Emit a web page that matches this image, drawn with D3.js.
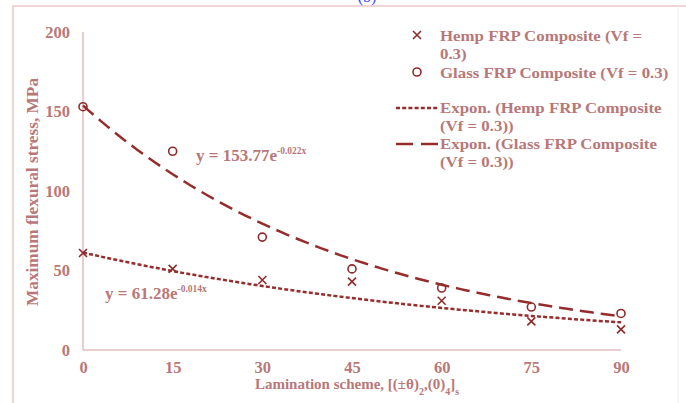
<!DOCTYPE html>
<html><head><meta charset="utf-8">
<script src="https://cdn.jsdelivr.net/npm/d3@7"></script>
<style>
html,body{margin:0;padding:0;background:#fff;}
text{font-family:"Liberation Serif","Times New Roman",serif;font-weight:bold;}
</style></head>
<body>
<svg id="c" width="686" height="403"></svg>
<script>
const xTicks = [0, 15, 30, 45, 60, 75, 90];
const yTicks = [0, 50, 100, 150, 200];
const hempX = [0, 15, 30, 45, 60, 75, 90];
const hempY = [61, 51, 44, 43, 31, 18, 13];
const glassX = [0, 15, 30, 45, 60, 75, 90];
const glassY = [153, 125, 71, 51, 39, 27, 23];
const hempFit = [61.28, -0.014];
const glassFit = [153.77, -0.022];
const legendLabels = [["Hemp FRP Composite (Vf =", "0.3)"], ["Glass FRP Composite (Vf = 0.3)"],
  ["Expon. (Hemp FRP Composite", "(Vf = 0.3))"], ["Expon. (Glass FRP Composite", "(Vf = 0.3))"]];

const svg = d3.select("#c");
const textCol = "#b87878", markCol = "#8e2c2c", lineCol = "#962c2c", axisCol = "#e3bcbc";

// frame
svg.append("path").attr("d", "M13,403 L13,6 L686,6").attr("fill", "none").attr("stroke", "#ecc7c7").attr("stroke-width", 1.5);
svg.append("line").attr("x1", 678).attr("x2", 678).attr("y1", 6).attr("y2", 403).attr("stroke", "#eeeeee").attr("stroke-width", 1);
svg.append("text").attr("x", 367).attr("y", 2).attr("text-anchor", "middle").attr("fill", "#3344ff")
  .style("font-weight", "normal").style("font-size", "16px").text("(b)");

const x = d3.scaleLinear().domain([0, 90]).range([83, 621]);
const y = d3.scaleLinear().domain([0, 200]).range([350, 32]);

// axes lines
svg.append("line").attr("x1", x(0)).attr("x2", x(0)).attr("y1", y(0)).attr("y2", y(200)).attr("stroke", axisCol).attr("stroke-width", 1.5);
svg.append("line").attr("x1", x(0)).attr("x2", x(90)).attr("y1", y(0)).attr("y2", y(0)).attr("stroke", axisCol).attr("stroke-width", 1.5);

const yAxis = d3.axisLeft(y).tickValues(yTicks).tickSize(0).tickPadding(13);
const gy = svg.append("g").attr("transform", `translate(${x(0)},0)`).call(yAxis);
gy.select(".domain").remove();
gy.selectAll("text").attr("fill", textCol).style("font-size", "16.5px").style("font-family", "Liberation Serif").style("font-weight", "bold");

const xAxis = d3.axisBottom(x).tickValues(xTicks).tickSize(0).tickPadding(11);
const gx = svg.append("g").attr("transform", `translate(0,${y(0)})`).call(xAxis);
gx.select(".domain").remove();
gx.selectAll("text").attr("fill", textCol).style("font-size", "16.5px").style("font-family", "Liberation Serif").style("font-weight", "bold");

// axis titles
svg.append("text").attr("transform", `translate(38,192) rotate(-90)`).attr("text-anchor", "middle")
  .attr("fill", textCol).style("font-size", "17.3px").text("Maximum flexural stress, MPa");
const xt = svg.append("text").attr("x", 357).attr("y", 389).attr("text-anchor", "middle").attr("fill", textCol).style("font-size", "15px");
xt.append("tspan").text("Lamination scheme, [(±θ)");
xt.append("tspan").attr("baseline-shift", "sub").style("font-size", "10px").text("2");
xt.append("tspan").text(",(0)");
xt.append("tspan").attr("baseline-shift", "sub").style("font-size", "10px").text("4");
xt.append("tspan").text("]");
xt.append("tspan").attr("baseline-shift", "sub").style("font-size", "10px").text("s");

// trendlines
const xs = d3.range(0, 90.01, 1);
const line = d3.line().x(d => x(d[0])).y(d => y(d[1]));
svg.append("path").datum(xs.map(v => [v, glassFit[0] * Math.exp(glassFit[1] * v)]))
  .attr("d", line).attr("fill", "none").attr("stroke", lineCol).attr("stroke-width", 2.5).attr("stroke-dasharray", "14,7");
svg.append("path").datum(xs.map(v => [v, hempFit[0] * Math.exp(hempFit[1] * v)]))
  .attr("d", line).attr("fill", "none").attr("stroke", lineCol).attr("stroke-width", 2.5).attr("stroke-dasharray", "4,2.2");

// markers
const cross = (g, cx, cy, s) => {
  g.append("path").attr("d", `M${cx - s},${cy - s}L${cx + s},${cy + s}M${cx - s},${cy + s}L${cx + s},${cy - s}`)
    .attr("stroke", markCol).attr("stroke-width", 1.6).attr("fill", "none");
};
hempX.forEach((v, i) => cross(svg, x(v), y(hempY[i]), 4));
svg.selectAll("circle.g").data(glassX).enter().append("circle").attr("class", "g")
  .attr("cx", d => x(d)).attr("cy", (d, i) => y(glassY[i])).attr("r", 4)
  .attr("fill", "none").attr("stroke", markCol).attr("stroke-width", 1.6);

// equations
const e1 = svg.append("text").attr("x", 196).attr("y", 161).attr("fill", textCol).style("font-size", "17px");
e1.append("tspan").text("y = 153.77e");
e1.append("tspan").attr("dy", -7).style("font-size", "9.5px").text("-0.022x");
const e2 = svg.append("text").attr("x", 105).attr("y", 299).attr("fill", textCol).style("font-size", "17px");
e2.append("tspan").text("y = 61.28e");
e2.append("tspan").attr("dy", -7).style("font-size", "9.5px").text("-0.014x");

// legend
const lg = svg.append("g");
cross(lg, 417, 35, 4);
lg.append("circle").attr("cx", 417).attr("cy", 72).attr("r", 4).attr("fill", "none").attr("stroke", markCol).attr("stroke-width", 1.6);
lg.append("line").attr("x1", 396).attr("x2", 439).attr("y1", 108).attr("y2", 108).attr("stroke", lineCol).attr("stroke-width", 2.5).attr("stroke-dasharray", "4,2.2");
lg.append("line").attr("x1", 396).attr("x2", 439).attr("y1", 144).attr("y2", 144).attr("stroke", lineCol).attr("stroke-width", 2.5).attr("stroke-dasharray", "17,8");
const lt = svg.append("g").attr("transform", "translate(440,0) scale(1.1,1)");
const ly = [[41, 59], [78], [113, 131], [149, 167]];
legendLabels.forEach((lines, i) => {
  lines.forEach((t, j) => {
    lt.append("text").attr("x", 0).attr("y", ly[i][j]).attr("fill", textCol).style("font-size", "15.3px").text(t);
  });
});
</script>
</body></html>
